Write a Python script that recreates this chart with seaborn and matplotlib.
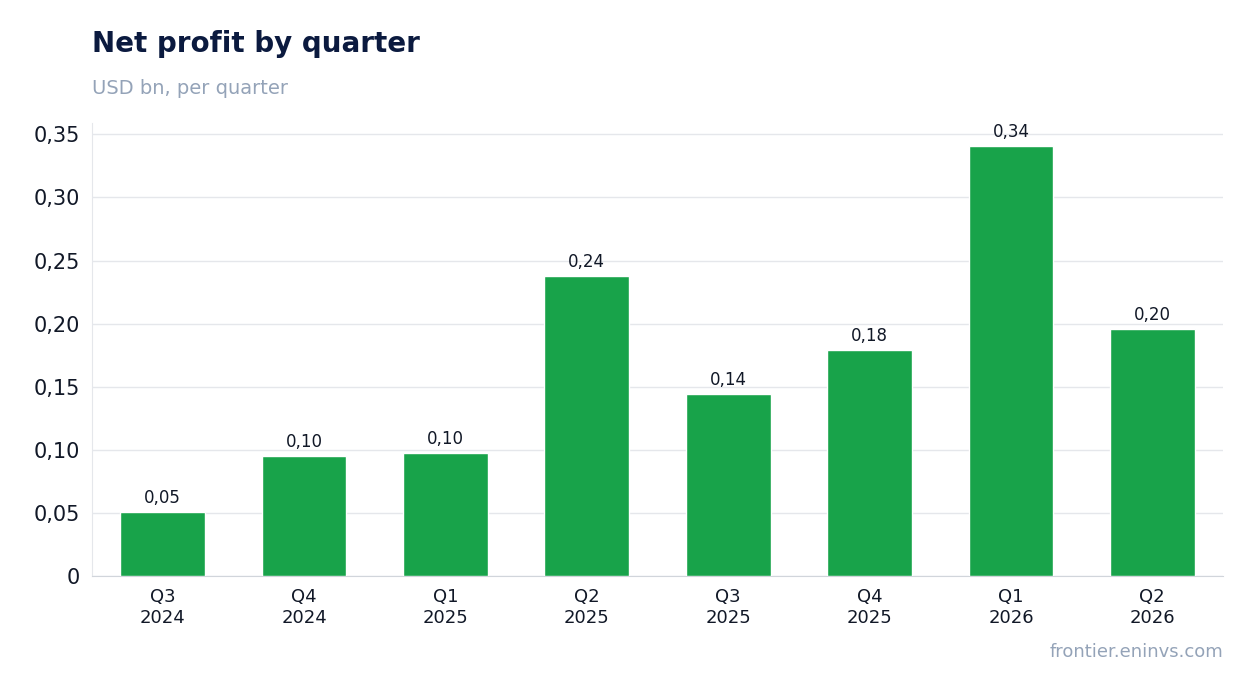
import matplotlib
matplotlib.use("Agg")
import matplotlib.pyplot as plt
import seaborn as sns
import pandas as pd
from matplotlib.ticker import FuncFormatter

quarters = ["Q3\n2024", "Q4\n2024", "Q1\n2025", "Q2\n2025", "Q3\n2025", "Q4\n2025", "Q1\n2026", "Q2\n2026"]
profit = [0.0507, 0.095, 0.0974, 0.2375, 0.144, 0.179, 0.341, 0.1956]

df = pd.DataFrame({"q": quarters, "v": profit})
sns.set_style("white")
plt.rcParams['font.family'] = ['DejaVu Sans']

fig = plt.figure(figsize=(12.54, 6.93), dpi=100)
ax = fig.add_axes([92/1254, 1-576/693, (1223-92)/1254, (576-123)/693])
sns.barplot(data=df, x="q", y="v", color="#18a34a", width=0.6, ax=ax, zorder=3, saturation=1)
ax.set_ylim(0, 0.359)
ax.set_yticks([0, 0.05, 0.1, 0.15, 0.2, 0.25, 0.3, 0.35])
ax.yaxis.set_major_formatter(FuncFormatter(lambda v, p: "0" if v == 0 else f"{v:.2f}".replace(".", ",")))
ax.grid(axis="y", color="#e5e7eb", lw=1, zorder=0)
for s in ["top", "right"]:
    ax.spines[s].set_visible(False)
ax.spines["left"].set_color("#e5e7eb")
ax.spines["bottom"].set_color("#d1d5db")
ax.tick_params(axis="y", labelsize=15, colors="#111827", length=5, color="#374151")
ax.tick_params(axis="x", labelsize=13, colors="#111827", length=5, color="#374151")
ax.set_xlabel(""); ax.set_ylabel("")
for i, v in enumerate(profit):
    ax.text(i, v + 0.004, f"{v:.2f}".replace(".", ","), ha="center", va="bottom", fontsize=12, color="#111827")
fig.text(92/1254, 1-44/693, "Net profit by quarter", fontsize=20, fontweight="bold", color="#0b1a3f", va="center")
fig.text(92/1254, 1-88/693, "USD bn, per quarter", fontsize=14, color="#94a3b8", va="center")
fig.text(1223/1254, 1-652/693, "frontier.eninvs.com", fontsize=13, color="#94a3b8", ha="right", va="center")
fig.savefig("out.png", dpi=100)
